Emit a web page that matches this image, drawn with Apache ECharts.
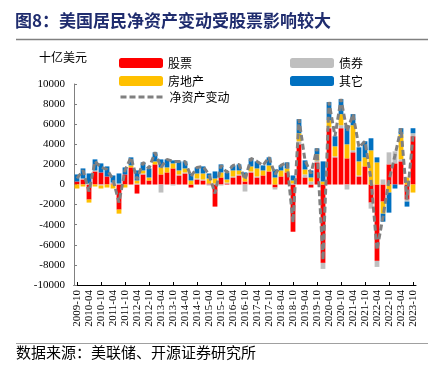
<!DOCTYPE html>
<html><head><meta charset="utf-8">
<script src="https://cdn.jsdelivr.net/npm/echarts@6/dist/echarts.min.js"></script>
<style>html,body{margin:0;padding:0;background:#fff}#c{width:437px;height:366px}</style>
</head><body><div id="c"></div>
<script>
const categories = [
 '2009-10',
 '2010-01','2010-04','2010-07','2010-10',
 '2011-01','2011-04','2011-07','2011-10',
 '2012-01','2012-04','2012-07','2012-10',
 '2013-01','2013-04','2013-07','2013-10',
 '2014-01','2014-04','2014-07','2014-10',
 '2015-01','2015-04','2015-07','2015-10',
 '2016-01','2016-04','2016-07','2016-10',
 '2017-01','2017-04','2017-07','2017-10',
 '2018-01','2018-04','2018-07','2018-10',
 '2019-01','2019-04','2019-07','2019-10',
 '2020-01','2020-04','2020-07','2020-10',
 '2021-01','2021-04','2021-07','2021-10',
 '2022-01','2022-04','2022-07','2022-10',
 '2023-01','2023-04','2023-07','2023-10'
];
// 十亿美元
const stocks = [300,
 500,-1500,1300,1200, 800,100,-2500,1000, 1700,-900,1000,400, 2000,1000,1200,1600,
 900,1100,-300,500, 400,100,-2200,700, 100,700,900,300, 1200,700,900,1300,
 -300,800,1200,-4700, 4000,700,-300,2200, -7800,5600,2700,5600, 2600,3200,800,1800,
 -1800,-7600,-1700,2000, 2100,2300,-1500,4800];
const bonds = [0,
 100,100,100,-100, 0,100,100,0, 0,100,100,0, 0,-800,0,-100,
 100,100,0,100, 100,-100,100,-100, 100,100,100,-700, 100,100,0,0,
 -200,0,0,100, 300,300,300,200, -600,100,100,300, -500,200,100,0,
 -600,-600,500,1200, 1200,200,-200,300];
const realEstate = [-400,
 -200,-300,-200,-300, -300,-400,-400,-300, 200,300,300,300, 300,700,500,500,
 400,400,400,500, 600,500,500,500, 300,600,400,500, 500,800,500,600,
 700,600,400,300, 800,500,400,600, 300,700,1000,1100, 1400,2500,1400,900,
 3400,2200,-1200,-800, 0,2500,700,-800];
const others = [700,
 1000,1000,1100,900, 1000,700,1000,700, 800,1000,800,900, 900,800,800,300,
 900,700,700,600, 700,500,700,800, 700,500,600,400, 800,700,500,800,
 800,500,600,500, 1400,900,700,600, 2000,1800,1000,1500, 1800,1100,1400,1600,
 1200,500,-800,-2000, -400,600,-500,500];
const netChange = [600,
 1400,-700,2300,1700, 1500,500,-1800,1400, 2700,500,2200,1600, 3200,1700,2500,2300,
 2300,2300,800,1700, 1800,1000,-900,1900, 1200,1900,2000,500, 2600,2300,1900,2700,
 1000,1900,2200,-3800, 6500,2400,1100,3600, -7500,8200,4800,8500, 5300,7000,3700,4300,
 500,-6500,-3200,400, 2900,5600,-1500,4800];

const seriesNames = ['股票','债券','房地产','其它','净资产变动'];
const colors = ['#FF0000','#BFBFBF','#FFC000','#0070C0','#808080'];

const cjk = '"Noto Sans CJK SC", sans-serif';
const serif = '"Liberation Serif", "DejaVu Serif", serif';

const chart = echarts.init(document.getElementById('c'), null, {renderer:'canvas'});

function leg(name, left, top, extra) {
  return Object.assign({data:[name], left:left, top:top, padding:0, itemWidth:44, itemHeight:10, itemGap:5,
    selectedMode:false, textStyle:{fontFamily:cjk, fontSize:12, color:'#000'}}, extra || {});
}

const barSeries = [stocks, bonds, realEstate, others].map((d, k) => ({
  name: seriesNames[k], type:'bar', stack:'total', data:d,
  barCategoryGap:'20%', itemStyle:{color:colors[k]}, xAxisIndex:0, yAxisIndex:0
}));

const option = {
  animation:false,
  backgroundColor:'#fff',
  title:{text:'图8：美国居民净资产变动受股票影响较大', left:15, top:12, padding:0,
    textStyle:{fontFamily:cjk, fontSize:17, fontWeight:'bold', color:'#1F2C6E'}},
  graphic:[
    {type:'line', shape:{x1:16,y1:39.5,x2:428,y2:39.5}, style:{stroke:'#808080', lineWidth:1.5}},
    {type:'line', shape:{x1:16,y1:343.5,x2:428,y2:343.5}, style:{stroke:'#A0A0A0', lineWidth:1}},
    {type:'text', left:39, top:51, style:{text:'十亿美元', font:'12px "Noto Sans CJK SC"', fill:'#000'}},
    {type:'text', left:16, top:345, style:{text:'数据来源：美联储、开源证券研究所', font:'15px "Noto Sans CJK SC"', fill:'#000'}}
  ],
  legend:[
    leg('股票',119,57), leg('债券',290,57),
    leg('房地产',119,75), leg('其它',290,75),
    leg('净资产变动',119,91, {itemStyle:{opacity:0}, lineStyle:{color:'#808080', width:3, type:[6,3]}})
  ],
  grid:{left:74, right:21, top:84, bottom:81},
  xAxis:[
    {type:'category', data:categories, axisLine:{show:false}, axisTick:{show:false},
     axisLabel:{interval:1, rotate:90, fontFamily:serif, fontSize:11, color:'#000', margin:5}},
    {type:'category', data:categories, position:'bottom',
     axisLine:{show:true, onZero:true, lineStyle:{color:'#000', width:1}},
     axisTick:{show:true, inside:true, alignWithLabel:true, interval:3, length:3, lineStyle:{color:'#000'}},
     axisLabel:{show:false}}
  ],
  yAxis:{type:'value', min:-10000, max:10000, interval:2000,
    axisLine:{show:true, lineStyle:{color:'#808080'}},
    axisTick:{show:true, inside:true, length:3, lineStyle:{color:'#808080'}},
    splitLine:{show:false},
    axisLabel:{fontFamily:serif, fontSize:11, color:'#000', margin:9, formatter:(v)=>String(v)}},
  series: barSeries.concat([{
    name:'净资产变动', type:'line', data:netChange, symbol:'none', z:5,
    itemStyle:{color:colors[4]},
    lineStyle:{color:colors[4], width:3, type:[6,3]}
  }])
};
chart.setOption(option);
</script>
</body></html>
